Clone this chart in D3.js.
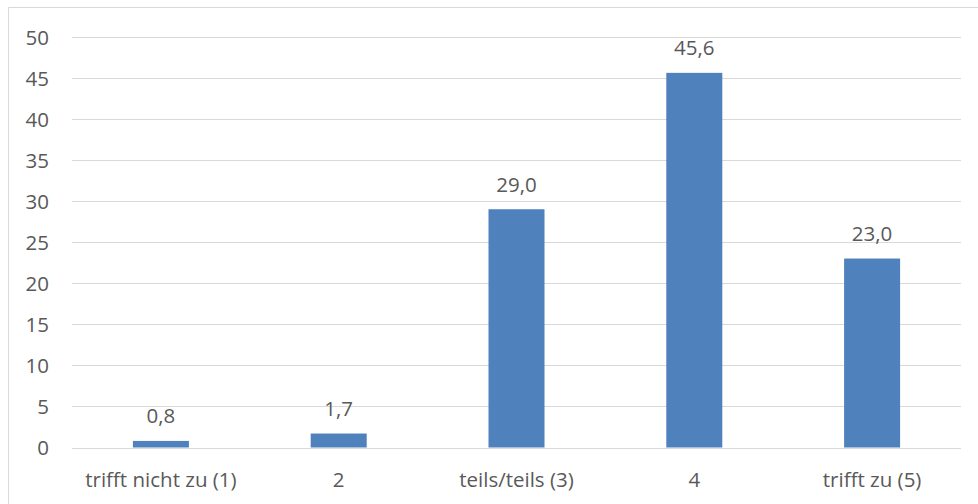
<!DOCTYPE html>
<html>
<head>
<meta charset="utf-8">
<script src="https://cdn.jsdelivr.net/npm/d3@7"></script>
<style>
  html, body { margin: 0; padding: 0; background: #fff; }
  svg { display: block; }
</style>
</head>
<body>
<svg id="chart" width="978" height="504"></svg>
<script>
// Antwortkategorien und Anteile in Prozent
const categories = ["trifft nicht zu (1)", "2", "teils/teils (3)", "4", "trifft zu (5)"];
const values = [0.8, 1.7, 29.0, 45.6, 23.0];
const yTicks = [0, 5, 10, 15, 20, 25, 30, 35, 40, 45, 50];

const svg = d3.select("#chart");
const W = 978, H = 504;
const plot = { left: 72, right: 961, top: 36.7, bottom: 447.5 };
const textColor = "#595959";
const fontFamily = "'Open Sans', 'Noto Sans', sans-serif";
const fontSize = 20.5;

// chart frame
svg.append("path")
  .attr("d", `M8.5,${H + 2} V7.5 H${W + 2}`)
  .attr("fill", "none")
  .attr("stroke", "#d9d9d9")
  .attr("stroke-width", 1);

const x = d3.scaleBand().domain(categories).range([plot.left, plot.right]).padding(0);
const y = d3.scaleLinear().domain([0, 50]).range([plot.bottom, plot.top]);
const barW = x.bandwidth() * 0.315;

// gridlines
svg.append("g")
  .selectAll("line")
  .data(yTicks)
  .join("line")
  .attr("x1", plot.left).attr("x2", plot.right)
  .attr("y1", d => Math.round(y(d)) + 0.5).attr("y2", d => Math.round(y(d)) + 0.5)
  .attr("stroke", "#d9d9d9").attr("stroke-width", 1.2);

// y axis labels
const yAxis = d3.axisLeft(y).tickValues(yTicks).tickSize(0).tickPadding(0).tickFormat(d3.format("d"));
const gy = svg.append("g").attr("transform", "translate(49,0)").call(yAxis);
gy.select(".domain").remove();
gy.selectAll("text")
  .attr("fill", textColor).attr("font-size", fontSize).attr("font-family", fontFamily)
  .attr("dy", "0.36em");

// bars
svg.append("g")
  .selectAll("rect")
  .data(values)
  .join("rect")
  .attr("x", (d, i) => x(categories[i]) + x.bandwidth() / 2 - barW / 2)
  .attr("width", barW)
  .attr("y", d => y(d))
  .attr("height", d => y(0) - y(d))
  .attr("fill", "#4f81bd");

// value labels
const fmt = d => d3.format(".1f")(d).replace(".", ",");
svg.append("g")
  .selectAll("text")
  .data(values)
  .join("text")
  .attr("x", (d, i) => x(categories[i]) + x.bandwidth() / 2)
  .attr("y", d => y(d) - 17.5)
  .attr("text-anchor", "middle")
  .attr("fill", textColor).attr("font-size", fontSize).attr("font-family", fontFamily)
  .text(fmt);

// category labels
const xAxis = d3.axisBottom(x).tickSize(0).tickPadding(0);
const gx = svg.append("g").attr("transform", `translate(0,${plot.bottom})`).call(xAxis);
gx.select(".domain").remove();
gx.selectAll("text")
  .attr("fill", textColor).attr("font-size", fontSize).attr("font-family", fontFamily)
  .attr("y", 39.5).attr("dy", 0);
</script>
</body>
</html>
